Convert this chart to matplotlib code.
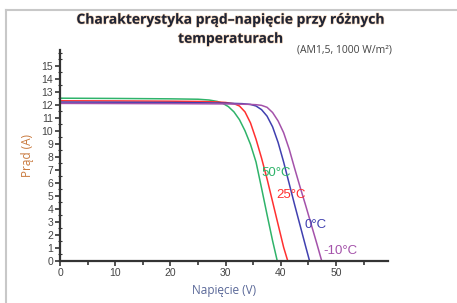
import matplotlib.pyplot as plt
import matplotlib.patheffects as pe
from matplotlib.lines import Line2D
from matplotlib.ticker import MultipleLocator

plt.rcParams['font.family'] = ['Liberation Sans', 'DejaVu Sans']

# I-V curves (voltage in V, current in A)
v_50 = [0, 10, 20, 25, 27, 28.5, 29.5, 30.5, 31.5, 32.5, 33.5, 34.5, 35.5, 36.5, 37.5, 38.5, 39.35]
i_50 = [12.5, 12.48, 12.45, 12.42, 12.36, 12.25, 12.1, 11.85, 11.45, 10.85, 10.0, 8.95, 7.6, 5.6, 3.55, 1.55, 0]

v_25 = [0, 10, 20, 25, 28, 30, 31.5, 32.5, 33.5, 34.5, 35.5, 36.5, 37.5, 38.5, 39.5, 40.5, 41.25]
i_25 = [12.3, 12.29, 12.27, 12.25, 12.22, 12.17, 12.08, 11.9, 11.45, 10.6, 9.35, 7.9, 6.3, 4.55, 2.8, 1.05, 0]

v_0 = [0, 10, 20, 25, 30, 33, 34.5, 35.5, 36.5, 37.5, 38.5, 39.5, 40.5, 41.5, 42.5, 43.5, 44.5, 45.2]
i_0 = [12.2, 12.19, 12.17, 12.15, 12.12, 12.08, 12.02, 11.9, 11.62, 11.12, 10.3, 9.1, 7.6, 5.95, 4.3, 2.7, 1.1, 0]

v_m10 = [0, 20, 30, 34, 35.5, 36.5, 37.5, 38.5, 39.5, 40.5, 41.5, 42.5, 43.5, 44.5, 45.5, 46.5, 47.4]
i_m10 = [12.1, 12.08, 12.06, 12.03, 12.0, 11.95, 11.8, 11.4, 10.75, 9.85, 8.6, 7.1, 5.65, 4.25, 2.8, 1.35, 0]

labels = ['50°C', '25°C', '0°C', '-10°C']
label_pos = [(36.5, 6.74), (39.2, 5.06), (44.3, 2.76), (47.7, 0.77)]
colors = ['#2fb36a', '#ff3030', '#4040b0', '#a452aa']
title_lines = ['Charakterystyka prąd–napięcie przy różnych', 'temperaturach']

fig = plt.figure(figsize=(4.57, 3.03), dpi=100)
ax = fig.add_axes([0.1313, 0.1386, 0.7177, 0.6964])

curves = [(v_50, i_50), (v_25, i_25), (v_0, i_0), (v_m10, i_m10)]
for (v, i), c, lab, pos in zip(curves, colors, labels, label_pos):
    ax.plot(v, i, color=c, linewidth=1.1, solid_joinstyle='round')
    ax.text(pos[0], pos[1], lab, color=c, fontsize=9.5, ha='left', va='center')

ax.set_xlim(0, 59.4)
ax.set_ylim(0, 16.2)
ax.xaxis.set_minor_locator(MultipleLocator(5))
ax.yaxis.set_minor_locator(MultipleLocator(0.5))
ax.set_xticks(range(0, 60, 10))
ax.set_yticks(range(0, 16))

for s in ['top', 'right']:
    ax.spines[s].set_visible(False)
for s in ['left', 'bottom']:
    ax.spines[s].set_linewidth(1.6)
    ax.spines[s].set_color('#333333')

ax.tick_params(axis='both', which='major', direction='out', length=3.5, width=1.2,
               colors='#333333', labelsize=7.5, labelcolor='#444444', pad=1.5)
ax.tick_params(axis='y', which='minor', direction='inout', length=3, width=0.8, colors='#333333')
ax.tick_params(axis='x', which='minor', direction='out', length=3, width=1.2, colors='#333333')

ax.set_xlabel('Napięcie (V)', fontsize=8.5, color='#5a6898', labelpad=4,
              family=['Open Sans', 'DejaVu Sans'])
ax.set_ylabel('Prąd (A)', fontsize=8.5, color='#c8783c', labelpad=5,
              family=['Open Sans', 'DejaVu Sans'])

# title in two lines, so the subtitle sits beside the second one
for line, y in zip(title_lines, [0.935, 0.872]):
    t = fig.text(0.505, y, line, ha='center', va='center', fontsize=10, fontweight='bold',
                 color='#1e2436', family=['Open Sans', 'DejaVu Sans'])
    t.set_path_effects([pe.withStroke(linewidth=1.0, foreground='#f2b880', alpha=0.5)])
fig.text(0.65, 0.835, '(AM1,5, 1000 W/m²)', ha='left', va='center', fontsize=7.5, color='#444444',
         family=['Open Sans', 'DejaVu Sans'])

# light frame of the original page
fig.add_artist(Line2D([0.013, 1.0], [0.967, 0.967], color='#c8c8c8', linewidth=1.5,
                      transform=fig.transFigure))
fig.add_artist(Line2D([0.013, 0.013], [0.0, 0.967], color='#c8c8c8', linewidth=1.5,
                      transform=fig.transFigure))

fig.savefig('out.png', dpi=100)
